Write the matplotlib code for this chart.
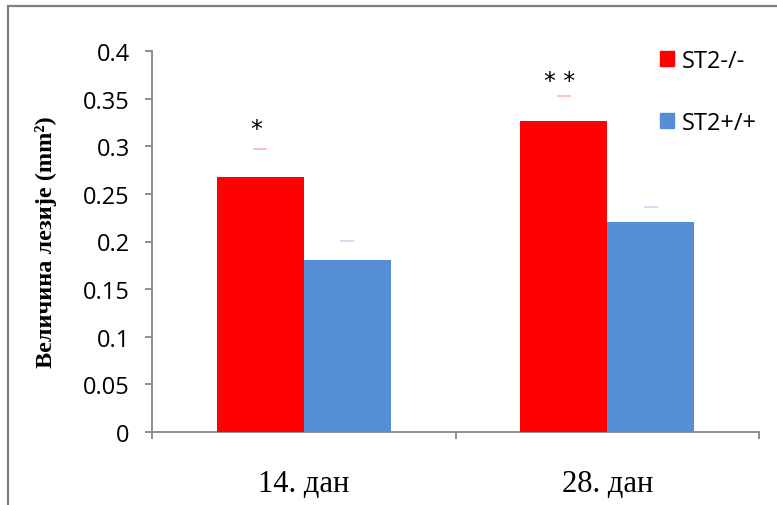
import matplotlib
matplotlib.use("Agg")
import matplotlib.pyplot as plt
from matplotlib.patches import Rectangle, Patch
import numpy as np

categories = ["14. дан", "28. дан"]
series_names = ["ST2-/-", "ST2+/+"]
st2_ko = [0.268, 0.327]
st2_wt = [0.181, 0.220]
err_ko = [0.029, 0.026]
err_wt = [0.020, 0.016]
stars = ["*", "* *"]
star_y = [0.318, 0.368]
yticks = [0, 0.05, 0.1, 0.15, 0.2, 0.25, 0.3, 0.35, 0.4]
ytick_labels = ["0", "0.05", "0.1", "0.15", "0.2", "0.25", "0.3", "0.35", "0.4"]

red = "#FF0000"
blue = "#558ED5"
gray = "#868686"

fig = plt.figure(figsize=(7.77, 5.06), dpi=100)
ax = fig.add_axes([152/777, 1-433/506, (759-152)/777, (433-52)/506])

x = np.arange(len(categories))
w = 0.287
ax.bar(x - w/2, st2_ko, w, color=red, zorder=3, label=series_names[0])
ax.bar(x + w/2, st2_wt, w, color=blue, zorder=3, label=series_names[1])
ax.scatter(x - w/2, np.array(st2_ko) + np.array(err_ko), marker="_", s=110,
           color="#FFB4B4", linewidths=1.2, zorder=2)
ax.scatter(x + w/2, np.array(st2_wt) + np.array(err_wt), marker="_", s=110,
           color="#C6D9F1", linewidths=1.2, zorder=2)

for xi, s, sy in zip(x - w/2, stars, star_y):
    ax.text(xi - 0.012, sy, s, ha="center", va="center", fontsize=17,
            family="DejaVu Sans", color="black")

ax.set_xlim(-0.5, 1.5)
ax.set_ylim(0, 0.4)
ax.set_yticks(yticks)
ax.set_yticklabels(ytick_labels, family="Open Sans", fontsize=17)
ax.set_xticks(x)
ax.set_xticklabels(categories, family="Liberation Serif", fontsize=22)
ax.set_xticks([-0.5, 0.5, 1.5], minor=True)
ax.tick_params(axis="x", which="major", length=0, pad=27)
ax.tick_params(axis="x", which="minor", length=5, width=1.3, color=gray, direction="out")
ax.tick_params(axis="y", length=5, width=1.3, color=gray, direction="out", pad=11)

for side in ["top", "right"]:
    ax.spines[side].set_visible(False)
for side in ["left", "bottom"]:
    ax.spines[side].set_color(gray)
    ax.spines[side].set_linewidth(1.3)

ax.set_ylabel("Величина лезије (mm²)", family="Liberation Serif", fontsize=17.5,
              fontweight="bold")
ax.yaxis.set_label_coords(-(152-57)/607, 0.5)

handles = [Patch(color=red), Patch(color=blue)]
leg = fig.legend(handles, series_names, loc="upper left", bbox_to_anchor=(639/777, 1-29/506),
                 frameon=False, prop={"family": "Open Sans", "size": 17},
                 handlelength=0.6, handleheight=0.6, handletextpad=0.3, labelspacing=1.6)

fig.patches.append(Rectangle((7.5/777, -0.1), 1.2, 0.1 + 1 - 6.5/506, transform=fig.transFigure,
                             fill=False, edgecolor="#7F7F7F", linewidth=1.6))

fig.savefig("out.png", dpi=100)
